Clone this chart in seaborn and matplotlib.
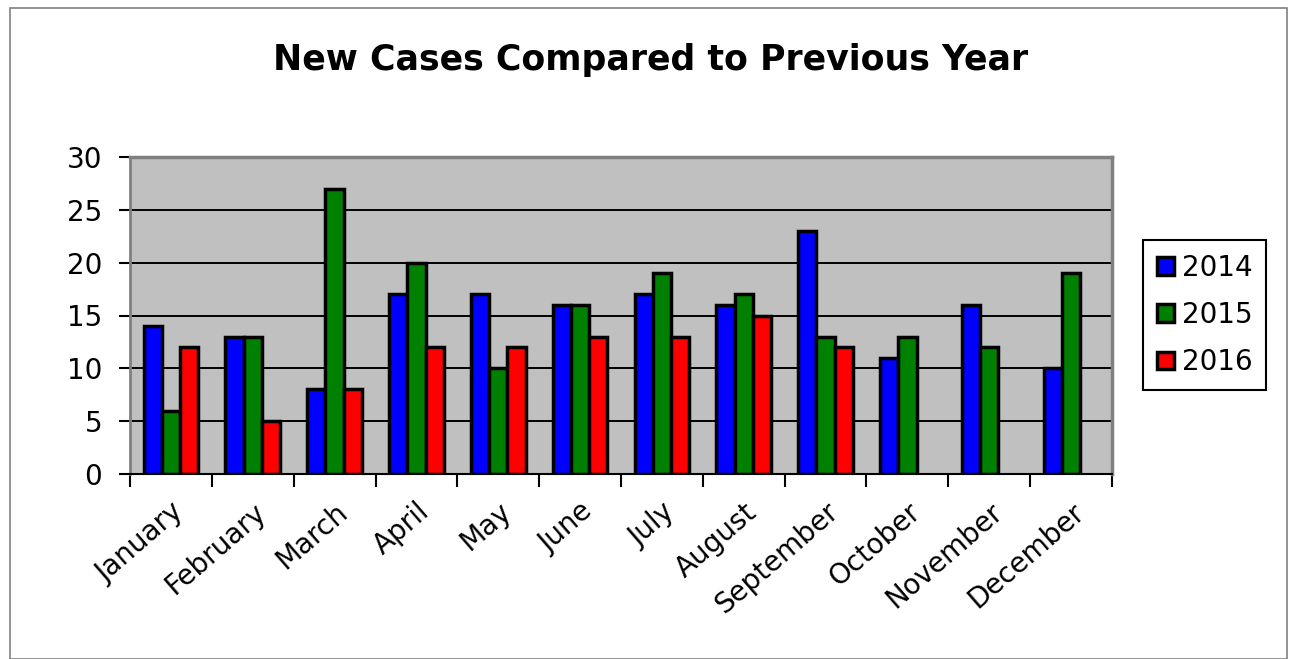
import matplotlib
matplotlib.use("Agg")
import matplotlib.pyplot as plt
import seaborn as sns
import pandas as pd
import numpy as np
from matplotlib.patches import Rectangle

months = ["January", "February", "March", "April", "May", "June", "July",
          "August", "September", "October", "November", "December"]
years = ["2014", "2015", "2016"]
cases_2014 = [14, 13, 8, 17, 17, 16, 17, 16, 23, 11, 16, 10]
cases_2015 = [6, 13, 27, 20, 10, 16, 19, 17, 13, 13, 12, 19]
cases_2016 = [12, 5, 8, 12, 12, 13, 13, 15, 12, np.nan, np.nan, np.nan]
colors = ["#0000FF", "#008000", "#FF0000"]

rows = []
for y, vals in zip(years, [cases_2014, cases_2015, cases_2016]):
    for m, v in zip(months, vals):
        rows.append({"Month": m, "Year": y, "Cases": v})
df = pd.DataFrame(rows)

sns.set_theme(style="white")
plt.rcParams['font.family'] = ['DejaVu Sans']
plt.rcParams['text.color'] = 'black'
plt.rcParams['xtick.color'] = 'black'
plt.rcParams['ytick.color'] = 'black'
plt.rcParams['xtick.labelcolor'] = 'black'
plt.rcParams['ytick.labelcolor'] = 'black'

fig = plt.figure(figsize=(12.9, 6.59), dpi=100)
ax = fig.add_axes([130/1290, 1-474/659, (1112-130)/1290, (474-157)/659])
ax.set_facecolor("#C0C0C0")

sns.barplot(data=df, x="Month", y="Cases", hue="Year", order=months,
            hue_order=years, palette=colors, width=0.67, gap=0,
            edgecolor="black", linewidth=2.5, saturation=1, ax=ax,
            errorbar=None)

ax.set_ylim(0, 30)
ax.set_xlim(-0.5, 11.5)
ax.set_yticks([0, 5, 10, 15, 20, 25, 30])
ax.set_yticklabels(["0", "5", "10", "15", "20", "25", "30"], fontsize=20)
for yv in [5, 10, 15, 20, 25]:
    ax.axhline(yv, color="black", linewidth=1.4, zorder=0.5)
ax.set_axisbelow(True)

ax.set_xticks(np.arange(12))
ax.set_xticklabels(months, rotation=41, ha="right", rotation_mode="anchor",
                   fontsize=20)
ax.tick_params(axis="x", length=0, pad=17)
ax.set_xticks(np.arange(-0.5, 12, 1), minor=True)
ax.tick_params(axis="x", which="minor", length=9, width=1.5, color="black",
               direction="out", bottom=True)
ax.tick_params(axis="y", length=8, width=1.5, color="black", direction="out",
               left=True, pad=12)
ax.set_xlabel("")
ax.set_ylabel("")

for s in ["top", "right", "left"]:
    ax.spines[s].set_color("#808080")
    ax.spines[s].set_linewidth(2.5)
ax.spines["left"].set_linewidth(2)
ax.spines["bottom"].set_color("black")
ax.spines["bottom"].set_linewidth(1.5)

fig.text(651/1290, 1-60/659, "New Cases Compared to Previous Year",
         ha="center", va="center", fontsize=25, fontweight="bold",
         color="black")

leg = ax.legend(loc="center left", bbox_to_anchor=(1143/1290, 1-315/659),
                bbox_transform=fig.transFigure, fontsize=20, frameon=True,
                fancybox=False, edgecolor="black", framealpha=1,
                handlelength=0.6, handleheight=0.6, handletextpad=0.3,
                labelspacing=0.7, borderpad=0.5, borderaxespad=0)
leg.get_frame().set_linewidth(1.5)
leg.set_title(None)

fig.patches.append(Rectangle((10/1290, 0), (1287-10)/1290, 1-8/659,
                             transform=fig.transFigure, fill=False,
                             edgecolor="#808080", linewidth=1.2))

fig.savefig("out.png", dpi=100, facecolor="white")
